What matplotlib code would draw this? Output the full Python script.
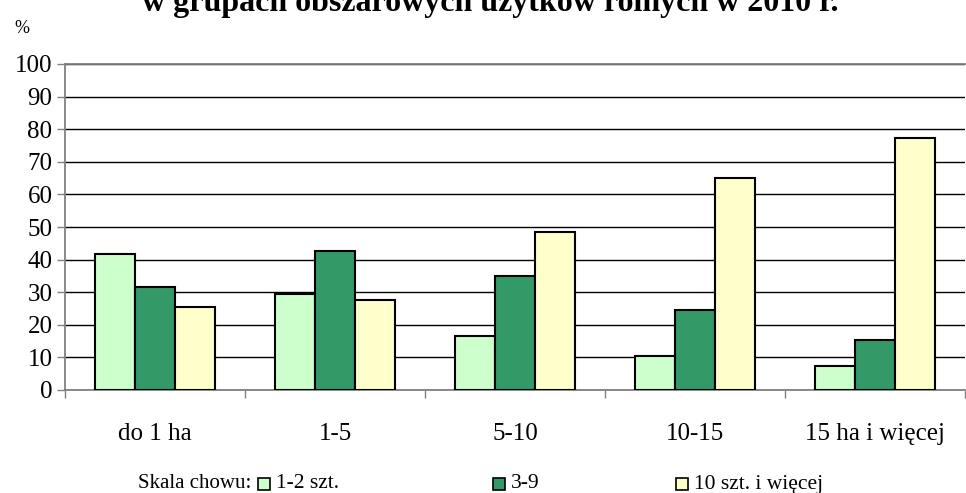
import numpy as np
import matplotlib
matplotlib.use('Agg')
import matplotlib.pyplot as plt
import matplotlib.patches as patches

plt.rcParams['font.family'] = ['Liberation Serif', 'DejaVu Serif']

# data
title = 'w grupach obszarowych użytków rolnych w 2010 r.'
categories = ['do 1 ha', '1-5', '5-10', '10-15', '15 ha i więcej']
series_labels = ['1-2 szt.', '3-9', '10 szt. i więcej']
v_small = [41.6, 29.3, 16.5, 10.3, 7.3]
v_mid = [31.7, 42.7, 34.9, 24.5, 15.2]
v_large = [25.6, 27.5, 48.5, 65.0, 77.2]
colors = ['#CCFFCC', '#339966', '#FFFFCC']
yticks = list(range(0, 101, 10))

W, H = 966, 493
fig = plt.figure(figsize=(W / 100, H / 100), dpi=100)
ax = fig.add_axes([65 / W, (H - 390) / H, 900 / W, (390 - 64) / H])

x = np.arange(len(categories))
bw = 0.222
for i, vals in enumerate([v_small, v_mid, v_large]):
    ax.bar(x + (i - 1) * bw, vals, width=bw, color=colors[i],
           edgecolor='black', linewidth=1.5, zorder=3)

ax.set_xlim(-0.5, len(categories) - 0.5)
ax.set_ylim(0, 100)
ax.set_yticks(yticks)
ax.set_yticklabels([str(t) for t in yticks], fontsize=18)
ax.tick_params(axis='y', direction='out', length=6, width=1, color='#808080', pad=3)

ax.set_xticks(x)
ax.set_xticklabels(categories, fontsize=18)
ax.set_xticks(np.arange(len(categories) + 1) - 0.5, minor=True)
ax.tick_params(axis='x', which='major', length=0, pad=24)
ax.tick_params(axis='x', which='minor', direction='out', length=6, width=1, color='#808080')

ax.grid(axis='y', color='black', linewidth=1, zorder=1)
for s in ['left', 'bottom', 'top']:
    ax.spines[s].set_color('#808080')
    ax.spines[s].set_linewidth(1.3)
ax.spines['right'].set_visible(False)

# title is partly cut off at the top edge, as in the source
fig.text(490 / W, 1 - 11 / H, title, ha='center', va='baseline',
         fontsize=23, fontweight='bold')
fig.text(14 / W, 1 - 33 / H, '%', fontsize=13, va='baseline')

# legend drawn by hand
ly = 1 - 484 / H
fig.text(138 / W, ly, 'Skala chowu:', fontsize=15, va='center')
box_x = [258, 493, 676]
for bx, lab, c in zip(box_x, series_labels, colors):
    fig.patches.append(patches.Rectangle((bx / W, ly - 6 / H), 12 / W, 12 / H,
                                         transform=fig.transFigure,
                                         facecolor=c, edgecolor='black', linewidth=1.2))
    fig.text((bx + 18) / W, ly, lab, fontsize=15.5, va='center')

fig.savefig('out.png', dpi=100)
